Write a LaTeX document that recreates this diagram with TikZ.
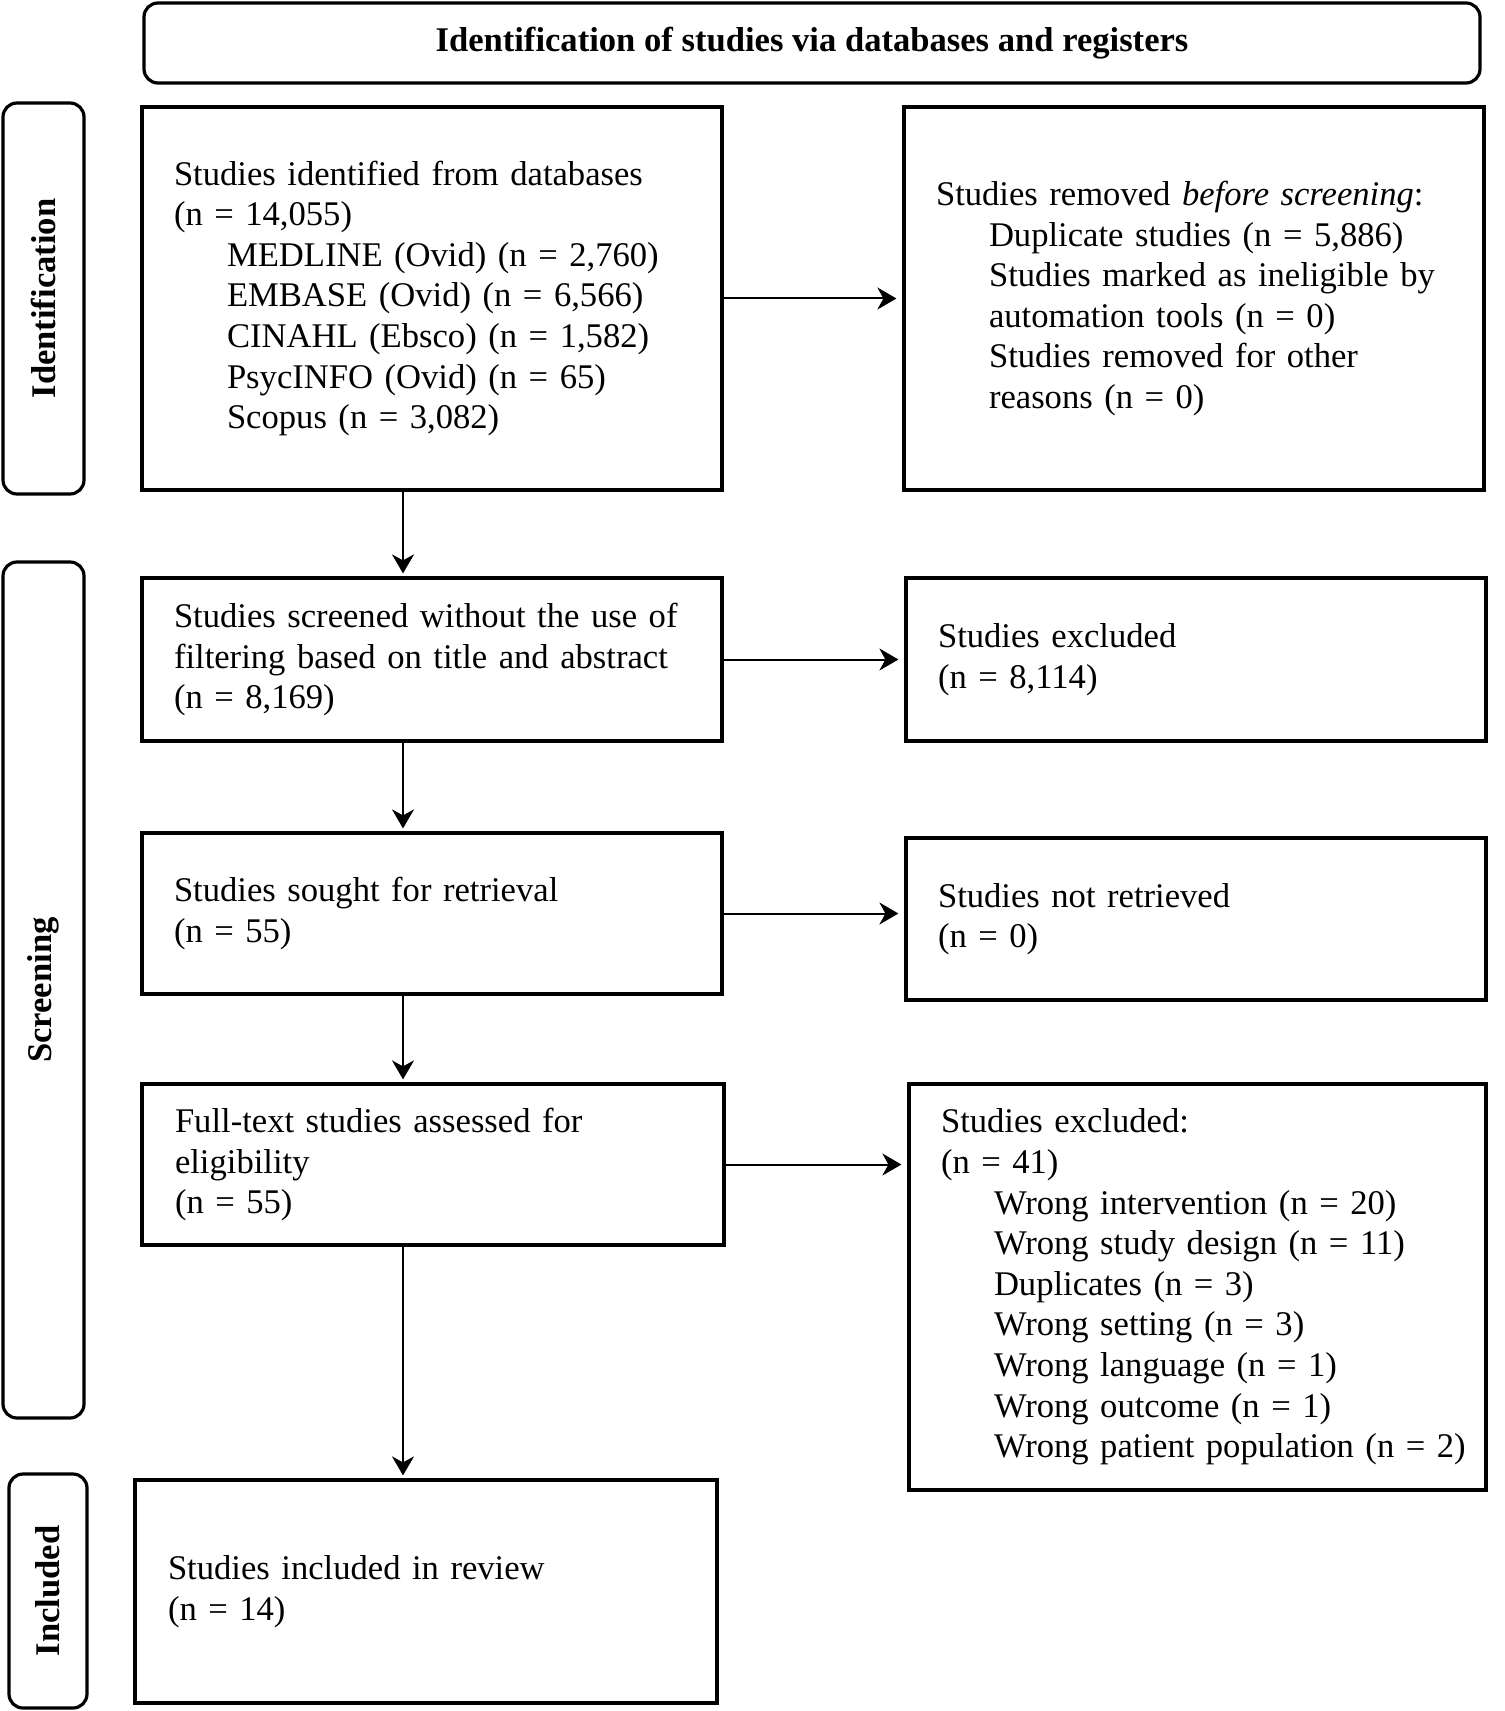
\documentclass[tikz,border=0pt]{standalone}
\usepackage{fontspec}
\setmainfont{Liberation Serif}
\usepackage{tikz}
\usetikzlibrary{arrows.meta}
\def\subsep{26.5pt}

\begin{document}
\begin{tikzpicture}[x=0.5pt, y=-0.5pt, ->, >={Stealth[length=9.5pt, width=11pt, inset=3pt]}, line width=1pt]
			\tikzstyle{every node}=[font=\fontsize{17.3}{20.3}\selectfont]
			\tikzstyle{box}=[rectangle, draw=black, line width=1.6pt, inner xsep=16pt, inner ysep=4pt, text width=258pt, align=left, minimum width=290pt]
			\tikzstyle{round box}=[rectangle, rounded corners=7pt, draw=black, line width=1.6pt, font=\fontsize{17.3}{20.3}\selectfont\bfseries]
			\tikzstyle{phase}=[round box, rotate=90, minimum height=40.5pt]
			\tikzstyle{header}=[round box, minimum width=668pt, minimum height=40pt]

			\useasboundingbox (0,0) rectangle (1504,1711);

			% Header and phase labels on the left
			\node[header] (title) at (812,43) {Identification of studies via databases and registers};
			\node[phase, minimum width=195.5pt] (ph-id) at (43.5,298.5) {Identification};
			\node[phase, minimum width=428pt] (ph-scr) at (43.5,990) {Screening};
			\node[phase, minimum width=117pt, minimum height=39pt] (ph-inc) at (48,1591) {Included};

			% Main column
			\node[box, minimum height=191.5pt] (ident) at (432,298.5) {Studies identified from databases\\
				(n = 14,055)\\
				\hspace*{\subsep}MEDLINE (Ovid) (n = 2,760)\\
				\hspace*{\subsep}EMBASE (Ovid) (n = 6,566)\\
				\hspace*{\subsep}CINAHL (Ebsco) (n = 1,582)\\
				\hspace*{\subsep}PsycINFO (Ovid) (n = 65)\\
				\hspace*{\subsep}Scopus (n = 3,082)};
			\node[box, minimum height=81.5pt] (screened) at (432,659.5) {Studies screened without the use of\\
				filtering based on title and abstract\\
				(n = 8,169)};
			\node[box, minimum height=80.5pt] (sought) at (432,913.5) {Studies sought for retrieval\\
				(n = 55)};
			\node[box, minimum height=80.5pt, minimum width=291pt] (fulltext) at (433,1164.5) {Full-text studies assessed for\\
				eligibility\\
				(n = 55)};
			\node[box, minimum height=111.5pt, minimum width=291pt] (included) at (426,1591.5) {Studies included in review\\
				(n = 14)};

			% Side column
			\node[box, minimum height=191.5pt] (removed) at (1194,298.5) {Studies removed \emph{before screening}:\\
				\hspace*{\subsep}Duplicate studies (n = 5,886)\\
				\hspace*{\subsep}Studies marked as ineligible by\\
				\hspace*{\subsep}automation tools (n = 0)\\
				\hspace*{\subsep}Studies removed for other\\
				\hspace*{\subsep}reasons (n = 0)};
			\node[box, minimum height=81.5pt] (excl-ta) at (1196,659.5) {Studies excluded\\
				(n = 8,114)};
			\node[box, minimum height=81pt] (notret) at (1196,919) {Studies not retrieved\\
				(n = 0)};
			\node[box, minimum height=203pt, minimum width=288.5pt, text width=256.5pt] (excl-ft) at (1197.5,1287) {Studies excluded:\\
				(n = 41)\\
				\hspace*{\subsep}Wrong intervention (n = 20)\\
				\hspace*{\subsep}Wrong study design (n = 11)\\
				\hspace*{\subsep}Duplicates (n = 3)\\
				\hspace*{\subsep}Wrong setting (n = 3)\\
				\hspace*{\subsep}Wrong language (n = 1)\\
				\hspace*{\subsep}Wrong outcome (n = 1)\\
				\hspace*{\subsep}\mbox{Wrong patient population (n = 2)}};

			% Connect the main column top to bottom
			\coordinate (spine) at (403,0);
			\foreach \source/\dest in {ident/screened, screened/sought, sought/fulltext, fulltext/included}
				\draw[shorten >=1.5pt] (\source.south -| spine) -- (\dest.north -| spine);

			% Connect the main column with the side column
			\foreach \source/\dest in {ident/removed, screened/excl-ta, sought/notret, fulltext/excl-ft}
				\draw[shorten >=3pt] (\source.east) -- (\source.east -| \dest.west);
\end{tikzpicture}
\end{document}
